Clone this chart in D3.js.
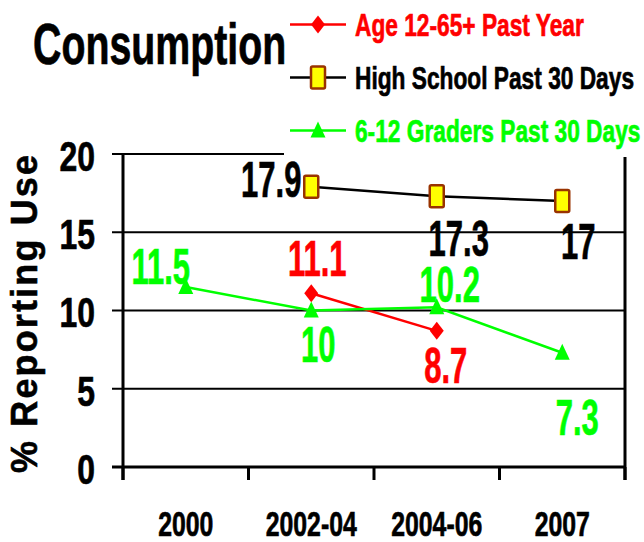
<!DOCTYPE html>
<html>
<head>
<meta charset="utf-8">
<script src="https://cdn.jsdelivr.net/npm/d3@7"></script>
<style>
  body { margin: 0; background: #fff; }
  text { font-family: "Liberation Sans", Arial, sans-serif; font-weight: bold; }
</style>
</head>
<body>
<div id="chart"></div>
<script>
// chart data
var categories = ["2000", "2002-04", "2004-06", "2007"];
var ageValues = [null, 11.1, 8.7, null];
var highSchoolValues = [null, 17.9, 17.3, 17];
var gradersValues = [11.5, 10, 10.2, 7.3];
var seriesNames = ["Age 12-65+ Past Year", "High School Past 30 Days", "6-12 Graders Past 30 Days"];
var yTicks = [0, 5, 10, 15, 20];

var svgWidth = 644;
var svgHeight = 542;

var svg = d3.select("#chart")
  .append("svg")
  .attr("width", svgWidth)
  .attr("height", svgHeight);

// plot box
var plot = { left: 123, right: 625, top: 154, bottom: 467 };

var x = d3.scaleBand()
  .domain(categories)
  .range([plot.left, plot.right]);

var y = d3.scaleLinear()
  .domain([0, 20])
  .range([plot.bottom, plot.top]);

// squeeze text horizontally around its anchor point (the original is squashed)
// and thicken it a little, the picture's bold is heavy
function squeeze(sel, k) {
  sel.attr("transform", function() {
    var tx = +this.getAttribute("x"), ty = +this.getAttribute("y");
    return `translate(${tx},${ty}) scale(${k},1) translate(${-tx},${-ty})`;
  })
  .attr("stroke", function() { return this.getAttribute("fill") || "#000"; })
  .attr("stroke-width", 0.7);
}

// gridlines
svg.append("g").selectAll("line")
  .data(yTicks)
  .enter().append("line")
  .attr("x1", plot.left - 11)
  .attr("x2", plot.right)
  .attr("y1", d => y(d))
  .attr("y2", d => y(d))
  .attr("stroke", "#000")
  .attr("stroke-width", d => d === 0 ? 3 : 2);

// y tick labels
svg.append("g").selectAll("text")
  .data(yTicks)
  .enter().append("text")
  .attr("x", 95)
  .attr("y", d => y(d) + 17)
  .attr("text-anchor", "end")
  .attr("font-size", 42)
  .attr("fill", "#000")
  .text(d => d)
  .call(squeeze, 0.76);

// left axis + right border
svg.append("line")
  .attr("x1", plot.left).attr("x2", plot.left)
  .attr("y1", plot.top).attr("y2", plot.bottom + 13)
  .attr("stroke", "#000").attr("stroke-width", 3);
svg.append("line")
  .attr("x1", plot.right).attr("x2", plot.right)
  .attr("y1", plot.top).attr("y2", plot.bottom + 13)
  .attr("stroke", "#000").attr("stroke-width", 3);

// bottom ticks between categories
var bounds = categories.map(c => x(c)).concat([x.range()[1]]);
svg.append("g").selectAll("line")
  .data(bounds)
  .enter().append("line")
  .attr("x1", d => d).attr("x2", d => d)
  .attr("y1", plot.bottom).attr("y2", plot.bottom + 13)
  .attr("stroke", "#000").attr("stroke-width", 3);

// x labels
svg.append("g").selectAll("text")
  .data(categories)
  .enter().append("text")
  .attr("x", d => x(d) + x.bandwidth() / 2)
  .attr("y", 536)
  .attr("text-anchor", "middle")
  .attr("font-size", 36)
  .attr("fill", "#000")
  .text(d => d)
  .call(squeeze, 0.69);

// y axis title
svg.append("text")
  .attr("transform", "translate(37, 314) rotate(-90)")
  .attr("text-anchor", "middle")
  .attr("font-size", 36)
  .attr("textLength", 318)
  .attr("lengthAdjust", "spacing")
  .attr("stroke", "#000")
  .attr("stroke-width", 0.6)
  .text("% Reporting Use");

// markers
function drawMarker(g, kind, cx, cy) {
  if (kind === "diamond") {
    g.append("path")
      .attr("d", `M${cx},${cy - 9}L${cx + 7},${cy}L${cx},${cy + 9}L${cx - 7},${cy}Z`)
      .attr("fill", "#FF0000");
  } else if (kind === "square") {
    g.append("rect")
      .attr("x", cx - 7).attr("y", cy - 11)
      .attr("width", 14).attr("height", 22)
      .attr("rx", 1.5)
      .attr("fill", "#FFFF00")
      .attr("stroke", "#993300")
      .attr("stroke-width", 2.5);
  } else {
    g.append("path")
      .attr("d", `M${cx},${cy - 9}L${cx + 7.5},${cy + 7}L${cx - 7.5},${cy + 7}Z`)
      .attr("fill", "#00FF00");
  }
}

var series = [
  { name: seriesNames[0], values: ageValues, color: "#FF0000", marker: "diamond",
    offs: [null, [6, -17], [9, 52], null] },
  { name: seriesNames[1], values: highSchoolValues, color: "#000000", marker: "square",
    offs: [null, [-40, 10], [22, 60], [16, 58]] },
  { name: seriesNames[2], values: gradersValues, color: "#00FF00", marker: "triangle",
    offs: [[-25, -3], [7, 52], [13, -5], [15, 82]] }
];

var cx = c => x(c) + x.bandwidth() / 2;

// lines
var line = d3.line()
  .defined(d => d.v != null)
  .x(d => cx(d.c))
  .y(d => y(d.v));

series.forEach(function(s) {
  var pts = categories.map((c, i) => ({ c: c, v: s.values[i], off: s.offs[i] }));
  svg.append("path")
    .datum(pts)
    .attr("d", line)
    .attr("fill", "none")
    .attr("stroke", s.color)
    .attr("stroke-width", 2.5);
  s.pts = pts;
});

series.forEach(function(s) {
  var g = svg.append("g");
  s.pts.filter(p => p.v != null).forEach(function(p) {
    drawMarker(g, s.marker, cx(p.c), y(p.v));
  });
});

// data labels
series.forEach(function(s) {
  svg.append("g").selectAll("text")
    .data(s.pts.filter(p => p.v != null))
    .enter().append("text")
    .attr("x", p => cx(p.c) + p.off[0])
    .attr("y", p => y(p.v) + p.off[1])
    .attr("text-anchor", "middle")
    .attr("font-size", 50)
    .attr("fill", s.color)
    .text(p => p.v)
    .call(squeeze, 0.62);
});

// legend (white box covers top of the plot)
var legend = svg.append("g");
legend.append("rect")
  .attr("x", 284).attr("y", 0)
  .attr("width", svgWidth - 284).attr("height", 157)
  .attr("fill", "#fff");

var legendY = [36, 89, 142];
series.forEach(function(s, i) {
  var my = legendY[i] - 11.5;
  legend.append("line")
    .attr("x1", 290).attr("x2", 346)
    .attr("y1", my).attr("y2", my)
    .attr("stroke", s.color).attr("stroke-width", 2.5);
  drawMarker(legend, s.marker, 318, my);
  legend.append("text")
    .attr("x", 355)
    .attr("y", legendY[i])
    .attr("font-size", 32)
    .attr("fill", s.color)
    .text(s.name)
    .call(squeeze, 0.71);
});

// title
svg.append("text")
  .attr("x", 33)
  .attr("y", 64)
  .attr("font-size", 57)
  .attr("fill", "#000")
  .text("Consumption")
  .call(squeeze, 0.69);
</script>
</body>
</html>
